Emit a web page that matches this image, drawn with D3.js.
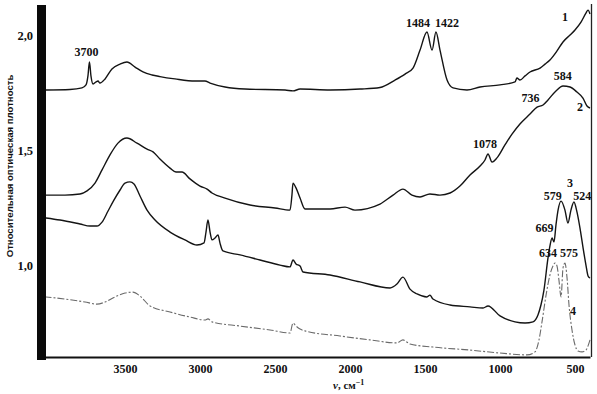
<!DOCTYPE html>
<meta charset="utf-8">
<script src="https://cdn.jsdelivr.net/npm/d3@7"></script>
<style>
body { margin: 0; background: #fff; }
.curve { fill: none; stroke: #141414; stroke-width: 1.4px; stroke-linejoin: round; }
.curve.c4 { stroke: #6a6a6a; stroke-width: 1.1px; stroke-dasharray: 7,2,2,2; }
.tick text, .lbl { font-family: "Liberation Serif", "DejaVu Serif", serif; font-weight: bold; fill: #111; }
.ytitle { font-family: "Liberation Sans Narrow", "Liberation Sans", Arial, sans-serif; font-weight: bold; font-size: 9.6px; fill: #111; }
</style>
<body>
<script>
var width = 597,
    height = 394;

// wavenumber (cm-1), optical density
var curve1 = [[4027,1.762],[3867,1.764],[3787,1.771],[3760,1.784],[3747,1.823],[3737,1.883],[3727,1.823],[3713,1.788],
  [3693,1.797],[3680,1.801],[3667,1.792],[3633,1.810],[3587,1.853],[3533,1.874],[3487,1.883],[3433,1.861],[3380,1.840],
  [3320,1.827],[3267,1.820],[3167,1.810],[3033,1.801],[2967,1.801],[2933,1.792],[2833,1.775],[2700,1.766],[2433,1.762],
  [2380,1.758],[2333,1.766],[2133,1.762],[1933,1.766],[1800,1.773],[1700,1.805],[1633,1.831],[1580,1.857],[1533,1.935],
  [1487,2.013],[1453,1.935],[1427,2.013],[1400,1.935],[1353,1.805],[1313,1.771],[1220,1.762],[1133,1.775],[1000,1.784],
  [900,1.797],[887,1.814],[867,1.805],[833,1.823],[800,1.840],[733,1.857],[700,1.874],[667,1.892],[620,1.931],
  [580,1.970],[533,2.000],[500,2.022],[460,2.056],[427,2.095],[413,2.108],[400,2.091]];

var curve2 = [[4027,1.307],[3900,1.307],[3800,1.312],[3753,1.325],[3700,1.359],[3653,1.416],[3600,1.481],[3547,1.532],
  [3487,1.554],[3420,1.532],[3353,1.506],[3313,1.494],[3267,1.463],[3200,1.424],[3160,1.407],[3120,1.407],[3067,1.377],
  [3000,1.346],[2953,1.333],[2920,1.316],[2833,1.294],[2667,1.264],[2500,1.251],[2400,1.242],[2387,1.307],[2380,1.359],
  [2360,1.338],[2333,1.294],[2300,1.247],[2133,1.247],[2033,1.255],[1967,1.242],[1800,1.268],[1713,1.307],[1647,1.333],
  [1587,1.307],[1533,1.299],[1467,1.312],[1400,1.307],[1333,1.316],[1267,1.346],[1200,1.394],[1133,1.433],[1100,1.459],
  [1080,1.485],[1053,1.450],[1020,1.468],[967,1.524],[920,1.571],[867,1.615],[800,1.658],[753,1.688],[713,1.697],
  [680,1.719],[627,1.758],[580,1.779],[533,1.775],[487,1.753],[447,1.727],[420,1.693],[400,1.684]];

var curve3 = [[4027,1.208],[3933,1.199],[3800,1.182],[3733,1.173],[3687,1.173],[3653,1.190],[3613,1.238],[3573,1.286],
  [3533,1.329],[3500,1.359],[3467,1.364],[3440,1.355],[3400,1.303],[3353,1.242],[3300,1.199],[3200,1.147],[3100,1.113],
  [3020,1.091],[2973,1.100],[2960,1.147],[2947,1.199],[2933,1.147],[2920,1.113],[2900,1.121],[2880,1.134],[2867,1.100],
  [2847,1.065],[2733,1.048],[2600,1.026],[2467,1.004],[2400,0.996],[2380,1.026],[2360,1.009],[2333,1.000],[2313,0.974],
  [2133,0.961],[1933,0.931],[1733,0.905],[1687,0.922],[1647,0.952],[1600,0.900],[1553,0.879],[1487,0.866],[1467,0.874],
  [1447,0.857],[1333,0.831],[1200,0.823],[1113,0.818],[1080,0.827],[1000,0.784],[900,0.758],[833,0.753],[780,0.758],
  [747,0.788],[727,0.831],[707,0.896],[680,1.035],[667,1.087],[653,1.121],[640,1.104],[627,1.177],[613,1.242],
  [593,1.281],[567,1.242],[547,1.186],[527,1.242],[507,1.277],[487,1.234],[467,1.165],[447,1.082],[427,1.004],
  [413,0.957],[400,0.948]];

var curve4 = [[4027,0.866],[3900,0.857],[3767,0.844],[3687,0.835],[3633,0.844],[3567,0.866],[3500,0.883],[3447,0.887],
  [3400,0.870],[3333,0.827],[3200,0.801],[3067,0.779],[2967,0.766],[2947,0.771],[2920,0.758],[2733,0.740],[2533,0.723],
  [2400,0.710],[2380,0.753],[2360,0.740],[2333,0.727],[2300,0.719],[2067,0.697],[1867,0.680],[1687,0.667],[1647,0.680],
  [1600,0.662],[1447,0.649],[1200,0.636],[1000,0.623],[820,0.615],[767,0.628],[740,0.680],[720,0.758],[693,0.874],
  [667,0.961],[647,1.000],[633,1.013],[620,1.000],[607,0.939],[593,0.866],[580,0.991],[567,1.013],[553,0.948],
  [540,0.831],[520,0.723],[500,0.658],[480,0.632],[453,0.628],[427,0.636],[413,0.654],[400,0.680]];

var xTicks = [3500, 3000, 2500, 2000, 1500, 1000, 500];
var yTicks = [1.0, 1.5, 2.0];

// peak labels: text, wavenumber, optical density of label centre
var peakText = ["3700", "1484", "1422", "584", "736", "1078", "579", "524", "669", "634", "575"];
var peakNu   = [3757, 1547, 1353, 582, 797, 1100, 649, 451, 704, 680, 540];
var peakD    = [1.926, 2.052, 2.052, 1.823, 1.727, 1.528, 1.303, 1.303, 1.165, 1.056, 1.056];

// curve numbers
var curveText = ["1", "2", "3", "4"];
var curveNu   = [567, 467, 533, 513];
var curveD    = [2.078, 1.688, 1.359, 0.805];

var x = d3.scaleLinear().domain([4030, 400]).range([45.5, 590]);
var y = d3.scaleLinear().domain([0.606, 2.13]).range([357, 5]);

var svg = d3.select("body").append("svg")
    .attr("width", width)
    .attr("height", height);

var line = d3.line()
    .x(function(d) { return x(d[0]); })
    .y(function(d) { return y(d[1]); })
    .curve(d3.curveMonotoneX);

[curve1, curve2, curve3, curve4].forEach(function(c, i) {
  svg.append("path")
    .datum(c.slice().reverse())
    .attr("class", "curve c" + (i + 1))
    .attr("d", line);
});

// bottom axis
var xAxis = svg.append("g")
    .attr("transform", "translate(0,357)")
    .call(d3.axisBottom(x).tickValues(xTicks).tickFormat(d3.format("d"))
      .tickSize(0).tickPadding(7).tickSizeOuter(0));
xAxis.select(".domain").attr("stroke", "#111").attr("stroke-width", 2.2);
xAxis.selectAll("text").attr("font-size", 12);

svg.append("line")
    .attr("x1", 37).attr("x2", 46)
    .attr("y1", 357).attr("y2", 357)
    .attr("stroke", "#111").attr("stroke-width", 2.2);

// left axis: thick bar
svg.append("rect")
    .attr("x", 37).attr("y", 5)
    .attr("width", 9).attr("height", 355)
    .attr("fill", "#0a0a0a");

var yAxis = svg.append("g")
    .attr("transform", "translate(36,0)")
    .call(d3.axisLeft(y).tickValues(yTicks).tickSize(0).tickPadding(3)
      .tickFormat(function(d) { return d3.format(".1f")(d).replace(".", ","); }));
yAxis.select(".domain").remove();
yAxis.selectAll("text").attr("font-size", 12.5);

// right edge line
svg.append("line")
    .attr("x1", 591.5).attr("x2", 591.5)
    .attr("y1", 4).attr("y2", 357)
    .attr("stroke", "#222").attr("stroke-width", 1.3);

// axis titles
svg.append("text")
    .attr("class", "ytitle")
    .attr("transform", "translate(13,166)rotate(-90)")
    .attr("text-anchor", "middle")
    .text("Относительная оптическая плотность");

var xt = svg.append("text")
    .attr("class", "lbl")
    .attr("x", 333).attr("y", 389)
    .attr("font-size", 11);
xt.append("tspan").attr("font-style", "italic").text("ν");
xt.append("tspan").text(", см");
xt.append("tspan").attr("dy", -4).attr("font-size", 8).text("−1");

// peak labels
svg.selectAll(".peak")
  .data(peakText)
  .enter().append("text")
    .attr("class", "lbl peak")
    .attr("x", function(d, i) { return x(peakNu[i]); })
    .attr("y", function(d, i) { return y(peakD[i]); })
    .attr("dy", "0.35em")
    .attr("text-anchor", "middle")
    .attr("font-size", 12)
    .text(function(d) { return d; });

svg.selectAll(".cnum")
  .data(curveText)
  .enter().append("text")
    .attr("class", "lbl cnum")
    .attr("x", function(d, i) { return x(curveNu[i]); })
    .attr("y", function(d, i) { return y(curveD[i]); })
    .attr("dy", "0.35em")
    .attr("text-anchor", "middle")
    .attr("font-size", 12)
    .text(function(d) { return d; });
</script>
</body>
</html>
